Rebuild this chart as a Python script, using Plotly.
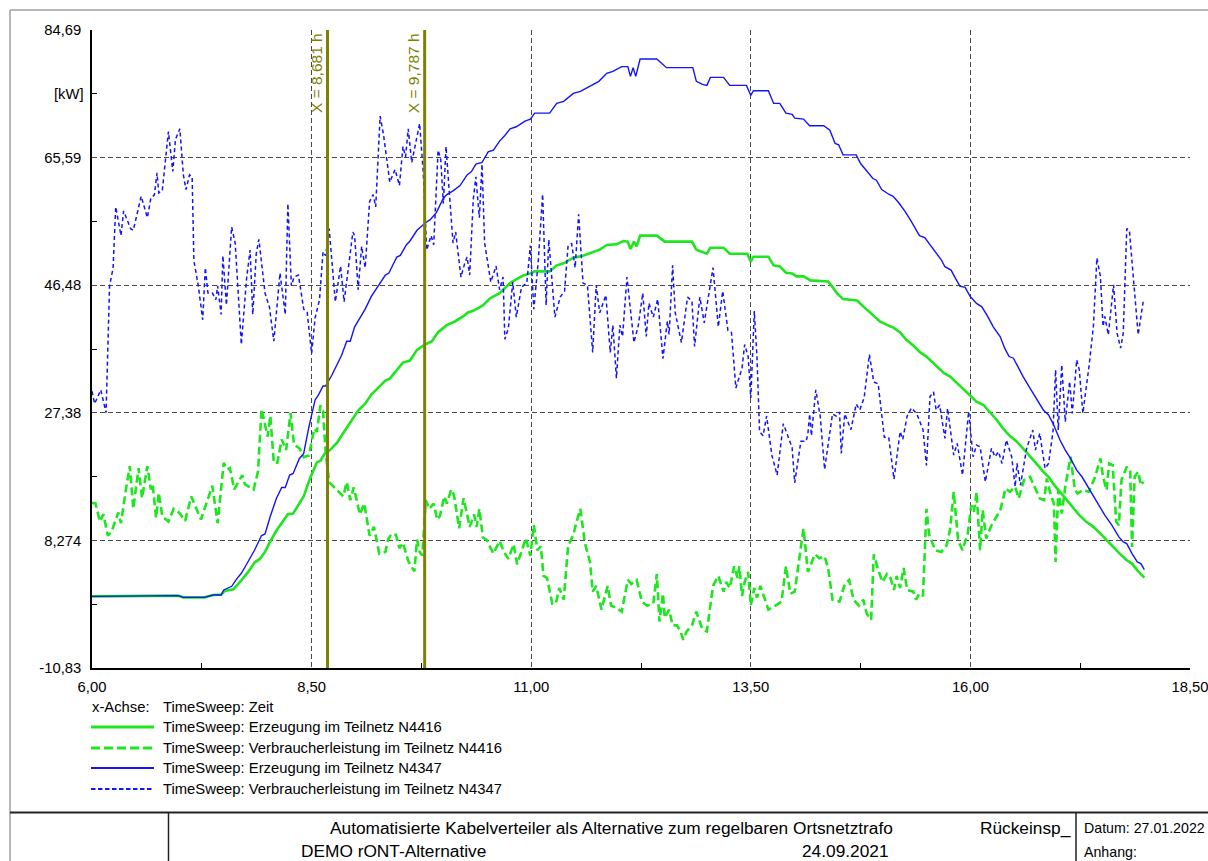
import plotly.graph_objects as go

# ---- data: TimeSweep over the day (hours), power in kW ----
t_gen_n4416 = [6.00, 6.52, 6.98, 7.04, 7.28, 7.38, 7.47, 7.51, 7.61, 7.70, 7.78, 7.85, 7.91, 7.97, 8.02, 8.10,
               8.16, 8.23, 8.29, 8.35, 8.41, 8.48, 8.56, 8.60, 8.65, 8.71, 8.79, 8.84, 8.92, 8.97, 9.03, 9.11,
               9.18, 9.26, 9.34, 9.39, 9.49, 9.54, 9.62, 9.70, 9.79, 9.87, 9.94, 10.04, 10.13, 10.23, 10.28,
               10.34, 10.45, 10.53, 10.64, 10.76, 10.83, 10.91, 10.99, 11.04, 11.21, 11.29, 11.37, 11.48, 11.59,
               11.69, 11.78, 11.86, 11.97, 12.05, 12.10, 12.13, 12.17, 12.20, 12.24, 12.43, 12.52, 12.83, 12.88,
               13.00, 13.04, 13.19, 13.26, 13.46, 13.50, 13.53, 13.70, 13.76, 13.83, 13.90, 13.97, 14.02, 14.10,
               14.18, 14.38, 14.43, 14.48, 14.55, 14.71, 14.79, 14.86, 14.91, 14.97, 15.05, 15.12, 15.20, 15.27,
               15.35, 15.43, 15.50, 15.54, 15.62, 15.70, 15.77, 15.85, 15.92, 16.00, 16.07, 16.15, 16.22, 16.30,
               16.37, 16.45, 16.53, 16.60, 16.68, 16.75, 16.83, 16.89, 16.94, 17.02, 17.09, 17.17, 17.24, 17.32,
               17.40, 17.48, 17.55, 17.63, 17.70, 17.78, 17.84, 17.90, 17.94, 17.98]
p_gen_n4416 = [-0.1, 0.0, 0.0, -0.25, -0.25, 0.1, 0.15, 0.7, 0.95, 2.3, 3.6, 4.95, 5.5, 6.55, 7.9, 9.75,
               10.85, 12.2, 12.3, 13.5, 14.85, 17.5, 19.95, 20.2, 21.3, 21.8, 22.9, 23.95, 25.55, 26.35, 27.7, 28.75,
               30.1, 31.15, 32.2, 32.5, 34.1, 34.9, 35.2, 36.8, 37.6, 38.1, 39.45, 40.5, 41.05, 41.85, 42.4,
               42.65, 43.45, 44.5, 45.3, 46.8, 47.35, 47.95, 48.25, 48.55, 48.55, 49.45, 49.75, 50.6, 50.9,
               51.35, 51.8, 52.5, 52.6, 53.1, 53.0, 51.9, 53.0, 52.3, 53.9, 53.9, 53.0, 53.0, 51.8,
               51.2, 52.1, 52.1, 51.2, 51.2, 50.0, 50.75, 50.75, 49.45, 49.3, 48.35, 48.25, 47.8, 47.8,
               47.2, 47.05, 46.2, 45.3, 44.4, 44.2, 43.2, 42.35, 41.75, 41.05, 40.55, 40.15, 39.4, 38.3,
               37.45, 36.4, 35.8, 35.3, 34.3, 33.3, 32.8, 31.8, 30.9, 29.8, 29.05, 28.55, 27.55, 26.3,
               25.05, 23.9, 23.05, 22.05, 20.8, 19.8, 18.55, 17.8, 16.8, 15.55, 14.3, 13.05, 12.05, 11.05,
               10.3, 9.3, 8.3, 7.3, 6.3, 5.3, 4.8, 3.8, 3.3, 2.7]

t_load_n4416 = [6.00, 6.04, 6.09, 6.13, 6.18, 6.22, 6.30, 6.33, 6.38, 6.43, 6.47, 6.53, 6.57, 6.63, 6.67, 6.69,
                6.73, 6.76, 6.80, 6.87, 6.93, 6.99, 7.06, 7.13, 7.24, 7.37, 7.43, 7.50, 7.54, 7.57, 7.62, 7.71,
                7.74, 7.84, 7.89, 7.93, 8.00, 8.03, 8.07, 8.11, 8.16, 8.21, 8.26, 8.30, 8.36, 8.41, 8.47, 8.53,
                8.56, 8.60, 8.63, 8.66, 8.70, 8.78, 8.86, 8.90, 8.94, 8.98, 9.05, 9.10, 9.16, 9.21, 9.27, 9.34,
                9.37, 9.41, 9.46, 9.50, 9.54, 9.60, 9.67, 9.70, 9.73, 9.76, 9.80, 9.84, 9.89, 9.93, 9.96, 10.01,
                10.04, 10.09, 10.12, 10.18, 10.23, 10.27, 10.30, 10.35, 10.38, 10.41, 10.45, 10.49, 10.57, 10.64,
                10.69, 10.74, 10.80, 10.84, 10.89, 10.94, 10.99, 11.03, 11.07, 11.11, 11.14, 11.18, 11.24, 11.28,
                11.32, 11.37, 11.42, 11.48, 11.52, 11.56, 11.61, 11.67, 11.70, 11.74, 11.76, 11.80, 11.87, 11.91,
                11.97, 12.03, 12.10, 12.14, 12.20, 12.26, 12.32, 12.39, 12.43, 12.46, 12.50, 12.52, 12.57, 12.61,
                12.66, 12.70, 12.73, 12.77, 12.83, 12.88, 12.95, 13.00, 13.07, 13.13, 13.19, 13.22, 13.26, 13.31,
                13.35, 13.37, 13.40, 13.43, 13.47, 13.50, 13.54, 13.57, 13.61, 13.70, 13.78, 13.85, 13.90, 13.95,
                14.00, 14.05, 14.10, 14.15, 14.23, 14.28, 14.34, 14.38, 14.43, 14.51, 14.57, 14.62, 14.67, 14.73,
                14.78, 14.82, 14.87, 14.90, 14.95, 15.00, 15.05, 15.09, 15.13, 15.16, 15.20, 15.24, 15.28, 15.35,
                15.38, 15.42, 15.46, 15.50, 15.53, 15.60, 15.67, 15.73, 15.77, 15.81, 15.86, 15.91, 15.97, 16.01,
                16.04, 16.07, 16.11, 16.14, 16.18, 16.24, 16.34, 16.40, 16.45, 16.51, 16.55, 16.61, 16.68, 16.73,
                16.79, 16.84, 16.87, 16.91, 16.95, 16.97, 17.00, 17.04, 17.08, 17.14, 17.19, 17.22, 17.28, 17.35,
                17.42, 17.48, 17.51, 17.55, 17.58, 17.62, 17.66, 17.69, 17.72, 17.78, 17.82, 17.84, 17.87, 17.91,
                17.94, 17.97]
p_load_n4416 = [13.9, 13.8, 11.1, 12.2, 9.0, 9.5, 12.45, 10.85, 15.4, 19.4, 13.0, 19.1, 14.6, 19.4, 15.9, 16.7,
                11.65, 15.4, 11.9, 11.1, 13.0, 12.45, 11.2, 14.85, 11.4, 16.45, 10.85, 19.9, 18.9, 19.1, 15.9, 18.05,
                16.7, 15.9, 18.6, 27.95, 23.8, 26.9, 19.9, 19.9, 23.4, 21.8, 27.35, 22.6, 22.1, 20.75, 21.0, 25.0,
                24.5, 28.5, 27.7, 21.5, 17.0, 16.0, 14.85, 17.0, 14.3, 16.2, 12.15, 13.8, 9.0, 10.3, 6.3, 6.55,
                8.4, 9.25, 9.1, 7.1, 7.9, 5.2, 3.63, 8.4, 6.55, 6.0, 14.3, 13.0, 13.8, 11.4, 11.9, 14.85,
                13.8, 15.9, 15.1, 10.1, 14.6, 12.15, 10.3, 12.15, 10.3, 13.0, 8.7, 8.4, 6.3, 8.2,
                6.55, 5.5, 7.7, 4.7, 6.8, 8.6, 5.95, 10.6, 6.8, 7.4, 2.95, 2.65, -1.2, -1.2,
                1.15, -0.6, 7.4, 9.15, 11.25, 13.0, 7.95, 5.0, 0.6, 1.45, 0.3, -2.1, 1.45, -1.5,
                -1.8, -2.4, 2.35, 1.75, 2.35, -0.9, -1.5, -1.2, 3.25, -3.9, 0.3, -3.3, -2.1, -4.45,
                -4.45, -5.35, -6.6, -5.35, -4.45, -2.4, -5.05, -5.35, 1.45, 2.95, 0.6, 2.05, 1.15, 4.4,
                2.65, 4.4, -0.05, 2.05, 3.55, -1.5, 1.15, -0.3, 1.45, -2.1, -1.5, -0.9, 4.4, 0.3,
                0.6, 5.0, 10.05, 3.55, 6.2, 5.6, 5.9, 4.15, -0.6, -0.9, 1.75, 2.35, -0.6, -1.5,
                -0.6, -2.7, -3.6, 6.2, 3.85, 2.05, 3.25, 2.65, 0.85, 2.95, 1.15, 4.15, 0.85, 0.6,
                -0.6, 0.3, -0.05, 13.0, 9.15, 6.8, 6.55, 7.55, 10.05, 15.55, 8.3, 6.8, 9.3, 13.55,
                12.55, 15.55, 6.8, 12.8, 8.55, 10.55, 12.8, 16.05, 15.55, 16.3, 14.55, 17.3, 17.8, 16.3,
                14.55, 14.3, 17.55, 15.3, 13.8, 5.05, 15.8, 12.3, 16.3, 20.8, 15.8, 15.3, 15.8, 15.55,
                17.8, 20.55, 17.8, 15.8, 19.8, 19.55, 11.05, 10.55, 17.3, 19.3, 18.55, 7.3, 17.8, 18.55,
                16.55, 17.05]

t_gen_n4347 = [6.00, 6.52, 6.98, 7.04, 7.28, 7.38, 7.47, 7.50, 7.59, 7.65, 7.70, 7.76, 7.85, 7.93, 7.97, 8.03,
               8.10, 8.16, 8.20, 8.25, 8.29, 8.36, 8.41, 8.47, 8.54, 8.58, 8.63, 8.66, 8.73, 8.79, 8.84, 8.90,
               8.94, 8.99, 9.05, 9.11, 9.18, 9.26, 9.34, 9.38, 9.47, 9.51, 9.58, 9.62, 9.70, 9.79, 9.85, 9.92,
               9.96, 10.00, 10.04, 10.11, 10.19, 10.27, 10.32, 10.37, 10.44, 10.51, 10.57, 10.64, 10.70, 10.76,
               10.83, 10.93, 10.99, 11.04, 11.21, 11.29, 11.37, 11.48, 11.56, 11.65, 11.77, 11.86, 11.93, 12.03,
               12.10, 12.13, 12.16, 12.19, 12.24, 12.43, 12.49, 12.54, 12.84, 12.88, 12.95, 13.00, 13.04, 13.19,
               13.26, 13.45, 13.50, 13.53, 13.70, 13.76, 13.83, 13.90, 13.97, 14.00, 14.10, 14.17, 14.33, 14.40,
               14.46, 14.50, 14.55, 14.70, 14.75, 14.82, 14.89, 14.93, 14.99, 15.07, 15.12, 15.18, 15.26, 15.33,
               15.42, 15.48, 15.54, 15.62, 15.67, 15.71, 15.78, 15.83, 15.88, 15.94, 16.00, 16.07, 16.13, 16.20,
               16.26, 16.34, 16.39, 16.44, 16.49, 16.56, 16.60, 16.68, 16.75, 16.83, 16.89, 16.94, 17.02, 17.08,
               17.14, 17.21, 17.27, 17.35, 17.40, 17.46, 17.53, 17.61, 17.69, 17.74, 17.78, 17.84, 17.90, 17.94,
               17.98]
p_gen_n4347 = [-0.1, 0.0, 0.0, -0.25, -0.25, 0.1, 0.1, 0.85, 1.4, 2.55, 3.35, 4.7, 6.8, 9.0, 9.25, 11.9,
               14.6, 16.2, 16.2, 18.05, 18.3, 20.5, 21.3, 25.3, 29.3, 30.1, 31.4, 31.4, 33.0, 34.6, 35.95, 38.1,
               38.1, 40.25, 41.6, 42.9, 44.8, 46.4, 48.0, 48.3, 50.7, 50.95, 52.55, 53.1, 54.7, 55.75, 56.3, 57.35,
               58.4, 59.5, 60.05, 60.6, 61.4, 63.0, 63.5, 64.6, 64.85, 66.45, 66.7, 68.05, 68.9, 69.9,
               70.2, 71.05, 71.35, 72.25, 72.25, 73.7, 74.0, 75.2, 75.5, 76.1, 77.0, 78.2, 78.5, 79.2,
               79.2, 77.75, 79.05, 77.75, 80.35, 80.35, 79.65, 79.05, 79.05, 77.0, 76.55, 76.4, 77.6, 77.6,
               76.4, 76.4, 74.9, 75.6, 75.6, 73.7, 73.7, 72.25, 72.05, 71.5, 71.35, 70.35, 70.35, 69.7,
               67.7, 67.5, 66.0, 66.0, 64.7, 63.65, 62.45, 62.2, 60.8, 60.1, 59.8, 58.9, 57.45, 55.95,
               53.9, 53.6, 52.5, 51.0, 50.25, 49.25, 48.75, 47.5, 46.35, 46.15, 44.75, 43.75, 43.25, 41.75,
               40.25, 38.75, 37.05, 35.8, 35.55, 33.8, 32.8, 31.05, 29.55, 27.8, 27.05, 25.8, 23.3, 21.8,
               20.55, 18.8, 17.8, 16.05, 14.8, 13.55, 12.05, 10.55, 8.8, 8.05, 7.8, 6.3, 5.05, 4.8,
               3.9]

t_load_n4347 = [6.00, 6.03, 6.10, 6.16, 6.20, 6.24, 6.27, 6.33, 6.36, 6.44, 6.47, 6.52, 6.56, 6.63, 6.67, 6.71,
                6.74, 6.76, 6.80, 6.87, 6.92, 6.95, 7.00, 7.04, 7.07, 7.11, 7.14, 7.16, 7.21, 7.26, 7.29, 7.32,
                7.37, 7.41, 7.43, 7.47, 7.49, 7.53, 7.59, 7.63, 7.70, 7.76, 7.80, 7.83, 7.87, 7.90, 7.97, 8.02,
                8.07, 8.14, 8.20, 8.23, 8.27, 8.30, 8.35, 8.41, 8.45, 8.50, 8.54, 8.59, 8.63, 8.66, 8.70, 8.77,
                8.83, 8.87, 8.97, 8.99, 9.03, 9.07, 9.11, 9.16, 9.20, 9.23, 9.28, 9.32, 9.39, 9.45, 9.50, 9.54,
                9.57, 9.60, 9.64, 9.73, 9.77, 9.81, 9.86, 9.89, 9.94, 9.97, 10.00, 10.03, 10.07, 10.11, 10.14,
                10.20, 10.24, 10.27, 10.30, 10.34, 10.37, 10.41, 10.44, 10.47, 10.54, 10.60, 10.64, 10.68, 10.70,
                10.74, 10.79, 10.83, 10.89, 10.95, 10.99, 11.03, 11.08, 11.13, 11.17, 11.20, 11.27, 11.33, 11.38,
                11.42, 11.46, 11.50, 11.54, 11.59, 11.64, 11.70, 11.74, 11.78, 11.85, 11.90, 11.93, 11.97, 12.01,
                12.04, 12.09, 12.17, 12.22, 12.27, 12.31, 12.34, 12.39, 12.44, 12.50, 12.55, 12.57, 12.61, 12.64,
                12.71, 12.78, 12.83, 12.86, 12.92, 12.97, 13.07, 13.13, 13.18, 13.24, 13.28, 13.33, 13.40, 13.43,
                13.47, 13.50, 13.54, 13.57, 13.60, 13.64, 13.68, 13.74, 13.80, 13.87, 13.93, 13.97, 14.00, 14.07,
                14.13, 14.15, 14.17, 14.19, 14.24, 14.29, 14.34, 14.43, 14.47, 14.51, 14.53, 14.57, 14.64, 14.70,
                14.74, 14.79, 14.85, 14.90, 14.95, 15.02, 15.07, 15.13, 15.20, 15.23, 15.28, 15.33, 15.39, 15.46,
                15.50, 15.54, 15.58, 15.61, 15.65, 15.71, 15.74, 15.81, 15.85, 15.91, 15.98, 16.03, 16.07, 16.11,
                16.17, 16.24, 16.28, 16.32, 16.36, 16.41, 16.47, 16.51, 16.53, 16.57, 16.64, 16.71, 16.74, 16.79,
                16.85, 16.89, 16.94, 16.97, 17.00, 17.04, 17.08, 17.13, 17.16, 17.21, 17.24, 17.28, 17.35, 17.40,
                17.44, 17.48, 17.51, 17.53, 17.57, 17.63, 17.67, 17.71, 17.74, 17.78, 17.81, 17.86, 17.91, 17.97]
p_load_n4347 = [30.6, 28.75, 30.8, 27.4, 46.4, 49.05, 58.2, 53.9, 57.6, 54.95, 54.7, 57.6, 59.8, 56.6, 59.5, 60.0,
                63.3, 60.3, 60.6, 69.5, 63.5, 68.3, 69.9, 63.0, 60.8, 63.0, 62.7, 50.15, 46.4, 41.3, 49.1, 45.3,
                45.3, 44.3, 46.4, 42.1, 50.9, 43.5, 55.2, 52.8, 37.6, 47.5, 51.75, 42.1, 51.2, 53.35, 45.3, 43.2,
                38.1, 48.3, 42.1, 58.7, 46.4, 47.7, 48.0, 42.9, 42.4, 36.25, 41.6, 44.3, 51.5, 50.9, 54.95, 44.0,
                49.35, 44.0, 54.45, 53.9, 45.8, 52.3, 49.1, 59.0, 60.05, 58.2, 71.8, 68.9, 61.9, 63.8, 61.4, 67.25,
                65.7, 69.9, 64.85, 70.7, 63.5, 51.75, 53.9, 52.55, 66.7, 65.4, 58.7, 67.25, 59.25, 52.8, 54.45,
                47.7, 49.6, 50.7, 48.0, 59.25, 62.7, 56.6, 64.6, 52.8, 46.95, 49.35, 45.8, 47.7, 38.4,
                40.0, 46.95, 41.7, 46.2, 46.8, 52.4, 42.9, 50.0, 60.1, 43.5, 53.3, 41.7, 44.7, 45.6,
                52.4, 52.7, 49.1, 57.1, 46.8, 46.5, 36.4, 46.5, 42.35, 45.0, 36.4, 40.5, 32.55, 40.5,
                38.8, 47.7, 37.9, 40.5, 45.3, 38.8, 43.8, 41.7, 44.4, 35.5, 41.1, 39.1, 49.45, 42.35,
                37.9, 44.7, 44.1, 37.3, 44.7, 40.85, 49.1, 40.25, 45.6, 39.7, 39.4, 31.1, 34.05, 37.6,
                35.8, 29.6, 42.6, 35.8, 24.55, 23.95, 26.9, 21.0, 18.05, 25.75, 23.7, 22.2, 16.9, 23.1,
                23.1, 24.25, 27.2, 23.95, 30.8, 26.9, 18.9, 27.2, 26.9, 27.5, 21.3, 27.2, 24.85, 28.7,
                27.8, 29.6, 36.1, 32.0, 31.7, 23.7, 23.7, 17.45, 24.55, 23.4, 26.9, 28.1, 27.2, 24.85,
                19.5, 29.8, 30.5, 27.8, 28.55, 23.55, 28.05, 21.05, 22.8, 18.05, 27.55, 20.8, 22.55, 22.3,
                17.05, 22.05, 20.8, 21.55, 19.8, 23.3, 20.8, 16.3, 19.8, 16.55, 22.05, 24.8, 21.8, 24.3,
                19.05, 19.8, 24.55, 33.8, 24.8, 34.55, 26.05, 32.05, 27.3, 35.3, 33.8, 27.3, 34.3, 40.3,
                50.55, 47.8, 40.3, 41.8, 39.05, 46.55, 39.3, 37.05, 39.3, 54.95, 54.7, 46.8, 39.05, 44.3]

cursor_x = [8.681, 9.787]
cursor_labels = ["X = 8,681 h", "X = 9,787 h"]

x_range = [6.0, 18.5]
x_ticks = [6.0, 8.5, 11.0, 13.5, 16.0, 18.5]
x_ticktext = ["6,00", "8,50", "11,00", "13,50", "16,00", "18,50"]
x_minor = [7.25, 9.75, 12.25, 14.75, 17.25]

y_range = [-10.83, 84.69]
y_ticks = [84.69, 65.59, 46.48, 27.38, 8.274, -10.83]
y_ticktext = ["84,69", "65,59", "46,48", "27,38", "8,274", "-10,83"]
y_minor = [75.14, 56.035, 36.93, 17.827, -1.28]
y_unit = "[kW]"

series_names = ["TimeSweep: Erzeugung im Teilnetz N4416",
                "TimeSweep: Verbraucherleistung im Teilnetz N4416",
                "TimeSweep: Erzeugung im Teilnetz N4347",
                "TimeSweep: Verbraucherleistung im Teilnetz N4347"]
x_axis_caption = "TimeSweep: Zeit"

title_main = "Automatisierte Kabelverteiler als Alternative zum regelbaren Ortsnetztrafo"
project = "DEMO rONT-Alternative"
variant = "Rückeinsp_"
date_study = "24.09.2021"
date_print = "Datum: 27.01.2022"
appendix = "Anhang:"

# ---- styling ----
FONT = "Liberation Sans, Arial, sans-serif"
FS = 14.8        # chart texts
FS_BLOCK = 17.3  # title block texts
FS_SIDE = 14.2   # right column of the title block
FS_CURSOR = 15.5
GREEN = "#1ee61e"
BLUE = "#1414f5"
OLIVE = "#808000"
GRID = "#4a4a4a"

W, H = 1208, 861
L, R, T, B = 92, 18, 30, 193
PW, PH = W - L - R, H - T - B


def px(x):
    return (x - L) / PW


def py(y):
    return (H - B - y) / PH


styles = [
    dict(color=GREEN, width=2.6, dash="solid"),
    dict(color=GREEN, width=2.6, dash="8px,4px"),
    dict(color=BLUE, width=1.4, dash="solid"),
    dict(color=BLUE, width=1.5, dash="4px,3px"),
]
series = [(t_gen_n4416, p_gen_n4416), (t_load_n4416, p_load_n4416),
          (t_gen_n4347, p_gen_n4347), (t_load_n4347, p_load_n4347)]

fig = go.Figure()
for (tt, pp), name, st in zip(series, series_names, styles):
    fig.add_trace(go.Scatter(x=tt, y=pp, mode="lines", name=name, line=st,
                             showlegend=False, hoverinfo="skip"))

shapes = []
annotations = []

# measurement cursors
for cx, lab in zip(cursor_x, cursor_labels):
    shapes.append(dict(type="line", xref="x", yref="paper", x0=cx, x1=cx, y0=0, y1=1,
                       line=dict(color=OLIVE, width=3)))
    annotations.append(dict(xref="x", yref="paper", x=cx, y=1, text=lab, textangle=-90,
                            showarrow=False, xanchor="right", yanchor="top", xshift=-1, yshift=-1,
                            font=dict(family=FONT, size=FS_CURSOR, color=OLIVE)))

# unit label on the value axis
annotations.append(dict(xref="paper", yref="y", x=0, y=y_minor[0], text=y_unit, showarrow=False,
                        xanchor="right", yanchor="middle", xshift=-6,
                        font=dict(family=FONT, size=FS, color="black")))

# legend block below the chart
row_y = [707, 727, 748, 768, 789]
annotations.append(dict(xref="paper", yref="paper", x=px(90), y=py(row_y[0]), text="x-Achse:",
                        showarrow=False, xanchor="left", yanchor="middle",
                        font=dict(family=FONT, size=FS, color="black")))
annotations.append(dict(xref="paper", yref="paper", x=px(161), y=py(row_y[0]), text=x_axis_caption,
                        showarrow=False, xanchor="left", yanchor="middle",
                        font=dict(family=FONT, size=FS, color="black")))
legend_dash = ["solid", "9px,4px", "solid", "4.5px,2.5px"]
for ry, name, st, ld in zip(row_y[1:], series_names, styles, legend_dash):
    shapes.append(dict(type="line", xref="paper", yref="paper", x0=px(91), x1=px(154),
                       y0=py(ry), y1=py(ry), line=dict(color=st["color"], width=st["width"] + 0.4, dash=ld)))
    annotations.append(dict(xref="paper", yref="paper", x=px(161), y=py(ry), text=name,
                            showarrow=False, xanchor="left", yanchor="middle",
                            font=dict(family=FONT, size=FS, color="black")))

# page frame and title block
shapes += [
    dict(type="line", xref="paper", yref="paper", x0=px(10), x1=px(W + 2), y0=py(10), y1=py(10),
         line=dict(color="#a0a0a0", width=1.5)),
    dict(type="line", xref="paper", yref="paper", x0=px(10), x1=px(10), y0=py(10), y1=py(H + 2),
         line=dict(color="#a0a0a0", width=1.5)),
    dict(type="line", xref="paper", yref="paper", x0=px(10), x1=px(W + 2), y0=py(812.5), y1=py(812.5),
         line=dict(color="#222222", width=2)),
    dict(type="line", xref="paper", yref="paper", x0=px(168.5), x1=px(168.5), y0=py(812.5), y1=py(H + 2),
         line=dict(color="#222222", width=1.5)),
    dict(type="line", xref="paper", yref="paper", x0=px(1076), x1=px(1076), y0=py(812.5), y1=py(H + 2),
         line=dict(color="#222222", width=1.5)),
]
block_text = [
    (title_main, 611, 828, "center", FS_BLOCK),
    (variant, 978, 828, "left", FS_BLOCK),
    (date_print, 1082, 828, "left", FS_SIDE),
    (project, 393, 851, "center", FS_BLOCK),
    (date_study, 845, 851, "center", FS_BLOCK),
    (appendix, 1082, 852, "left", FS_SIDE),
]
for txt, x0, y0, anc, fs in block_text:
    annotations.append(dict(xref="paper", yref="paper", x=px(x0), y=py(y0), text=txt, showarrow=False,
                            xanchor=anc, yanchor="middle",
                            font=dict(family=FONT, size=fs, color="black")))

fig.update_layout(
    width=W, height=H,
    margin=dict(l=L, r=R, t=T, b=B, pad=0, autoexpand=False),
    paper_bgcolor="white", plot_bgcolor="white",
    font=dict(family=FONT, size=FS, color="black"),
    showlegend=False,
    shapes=shapes, annotations=annotations,
    xaxis=dict(range=x_range, tickvals=x_ticks, ticktext=x_ticktext, ticks="", showgrid=True,
               gridcolor=GRID, gridwidth=1, griddash="5px,3px", zeroline=False,
               showline=True, linecolor="black", linewidth=1.5, ticklabelstandoff=4,
               ticklabeloverflow="allow", automargin=False,
               tickfont=dict(family=FONT, size=FS, color="black"),
               minor=dict(tickvals=x_minor, ticks="inside", ticklen=5, tickcolor="black",
                          tickwidth=1, showgrid=False)),
    yaxis=dict(range=y_range, tickvals=y_ticks, ticktext=y_ticktext, ticks="", showgrid=True,
               gridcolor=GRID, gridwidth=1, griddash="5px,3px", zeroline=False,
               showline=True, linecolor="black", linewidth=1.5, ticklabelstandoff=6,
               ticklabeloverflow="allow", automargin=False,
               tickfont=dict(family=FONT, size=FS, color="black"),
               minor=dict(tickvals=y_minor, ticks="inside", ticklen=5, tickcolor="black",
                          tickwidth=1, showgrid=False)),
)

fig.write_html("out.html")
